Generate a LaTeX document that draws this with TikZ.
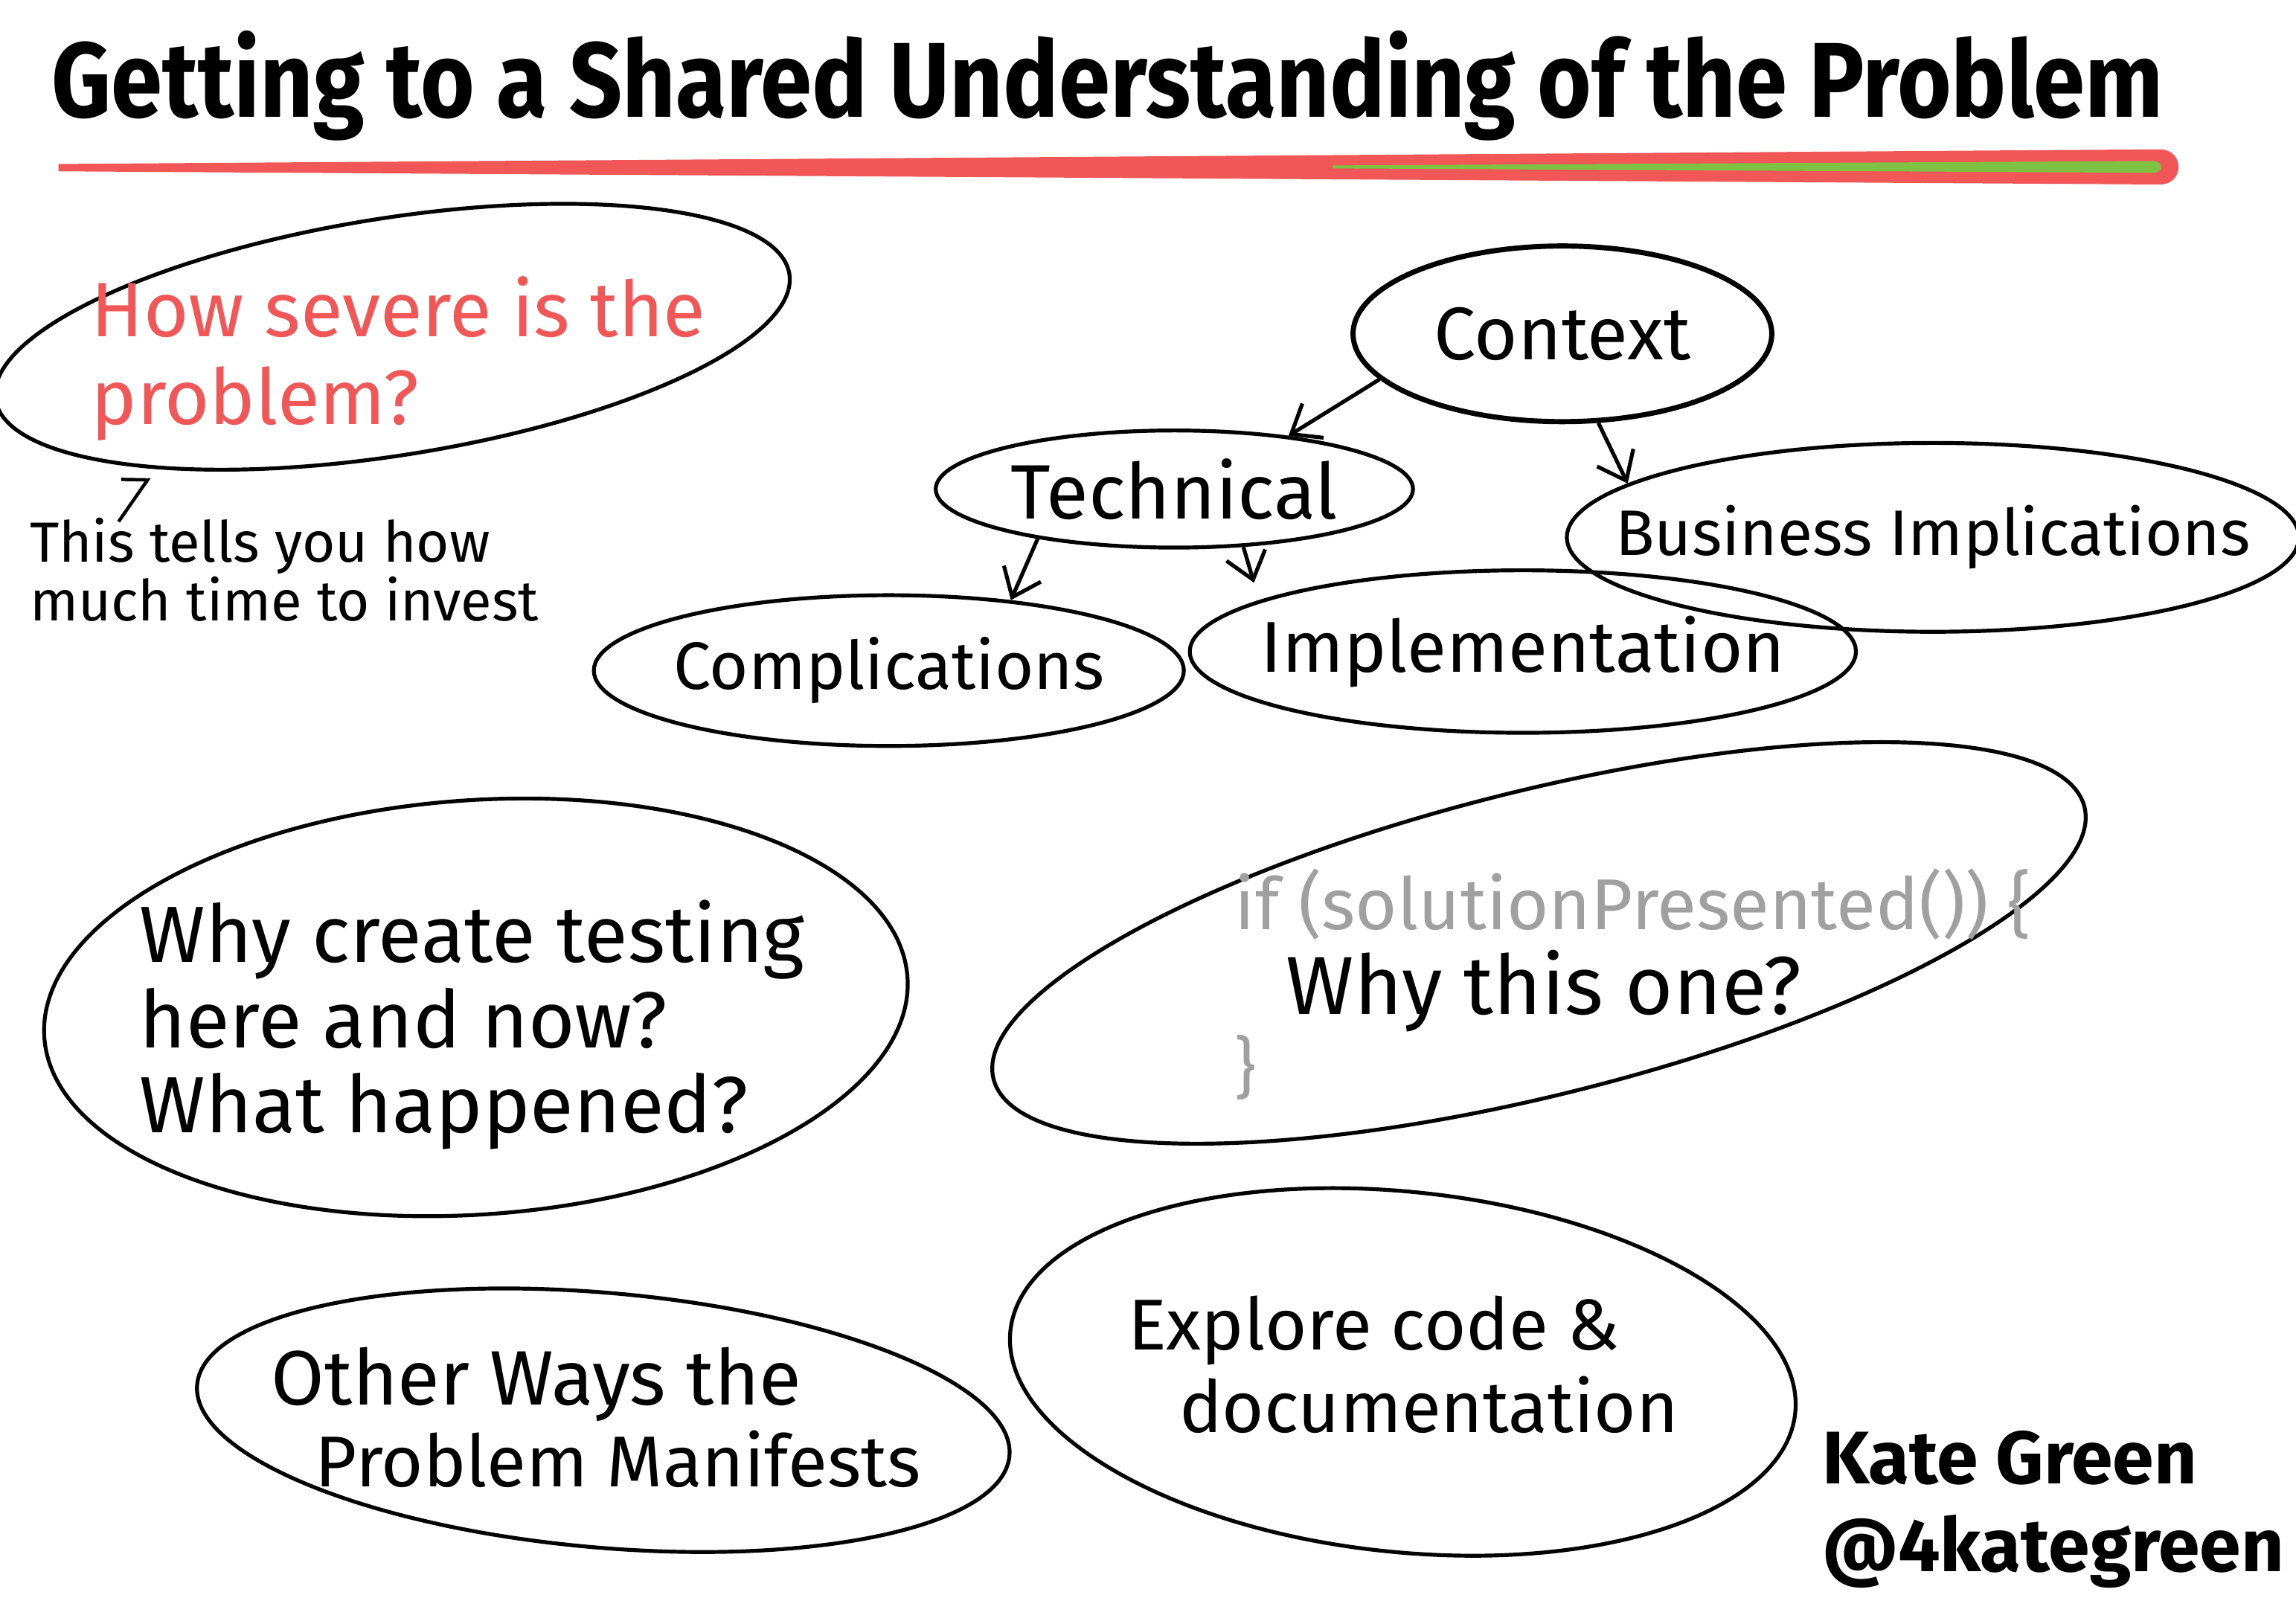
\documentclass[tikz,border=0pt]{standalone}
\usepackage{fontspec}
\setmainfont{Fira Sans}
\usepackage{xcolor}
\usetikzlibrary{arrows.meta, positioning, shapes.geometric}

\definecolor{markerred}{HTML}{F25757}
\definecolor{markergreen}{HTML}{7DC242}
\definecolor{pencilgray}{HTML}{A0A0A0}

\begin{document}
\begin{tikzpicture}[
    x=0.02cm, y=-0.02cm,
    bubble/.style={ellipse, draw=black, line width=1.5pt, inner sep=0pt},
    topic/.style={bubble, inner xsep=-1cm, inner ysep=-0.3cm},
    hand/.style args={#1/#2}{font=\fontsize{#1}{#2}\selectfont, align=left, inner sep=0pt},
    arrow/.style={-{Straight Barb[length=3.5mm, width=5.5mm]}, line width=1.5pt}
]
\useasboundingbox (0,0) rectangle (1568,1109);

% title and marker underline
\node[anchor=base west, yscale=1.15, font=\fontsize{36}{42}\selectfont\bfseries, inner sep=0pt] (title) at (35,80) {Getting to a Shared Understanding of the Problem};
\fill[markerred] (40,112) -- (1475,102) .. controls (1492,102) and (1492,126) .. (1475,126) -- (40,117) -- cycle;
\fill[markergreen] (910,113) -- (1470,110) .. controls (1478,110) and (1478,118) .. (1470,118) -- (910,115) -- cycle;

% how severe
\node[bubble, rotate=9, minimum width=10.98cm, minimum height=3.24cm] (severe) at (268,230) {};
\node[hand=30/34, text=markerred, anchor=west] (severetext) at (62,245) {How severe is the\\problem?};

% side note
\node[hand=22/19, anchor=west] (note) at (20,389) {This tells you how\\much time to invest};
\coordinate (notetip) at (102,326);
\draw[-{Straight Barb[left, length=2mm, width=6mm]}, line width=1.3pt] ([xshift=1.22cm, yshift=-0.06cm]note.north west) -- (notetip);

% context map
\node[hand=29/34, topic, line width=2pt, minimum width=5.72cm, minimum height=2.4cm] (context) at (1067,228) {Context};
\node[hand=30/34, topic, minimum width=6.52cm, minimum height=1.6cm] (technical) at (802,334) {Technical};
\node[hand=25/30, topic, minimum width=10cm, minimum height=2.58cm] (business) at (1320,367) {Business Implications};
\node[hand=26/30, topic, minimum width=8.06cm, minimum height=2.06cm] (complications) at (607,458) {Complications};
\node[hand=28/32, topic, minimum width=9.1cm, minimum height=2.22cm] (implementation) at (1040,445) {Implementation};

\draw[arrow] (context.194) -- (technical.25);
\draw[arrow] (context.292) -- (business.170);
\draw[arrow] (technical.200) -- (complications.30);
\draw[arrow, shorten >=0.25cm] (technical.320) -- (implementation.169);

% why now
\node[bubble, rotate=4, minimum width=11.82cm, minimum height=5.66cm] (why) at (325,688) {};
\node[hand=31/33, anchor=west] (whytext) at (95,700) {Why create testing\\here and now?\\What happened?};

% why this solution
\node[bubble, rotate=14, minimum width=15.36cm, minimum height=4.16cm] (solution) at (1051,644) {};
\node[hand=28/30, text=pencilgray, anchor=base west] (iftext) at (843,635) {if (solutionPresented()) \{};
\node[hand=32/36, anchor=base west] (whyone) at (878,693) {Why this one?};
\node[hand=26/30, text=pencilgray, anchor=base west] (closebrace) at (843,745) {\}};

% other ways
\node[bubble, rotate=-5, minimum width=11.14cm, minimum height=3.48cm] (manifest) at (412,970) {};
\node[hand=28/32, anchor=west] (manifesttext) at (185,968) {\fontsize{30}{32}\selectfont Other Ways the\\\hspace{0.6cm}Problem Manifests};

% explore
\node[bubble, rotate=-6, minimum width=10.78cm, minimum height=4.92cm] (explore) at (958,937) {};
\node[hand=28/32, anchor=west] (exploretext) at (770,932) {Explore code \&\\\hspace{0.7cm}documentation};

% signature
\node[hand=29/34, anchor=west] (signature) at (1244,1031) {\bfseries Kate Green\\\bfseries @4kategreen};
\end{tikzpicture}
\end{document}
